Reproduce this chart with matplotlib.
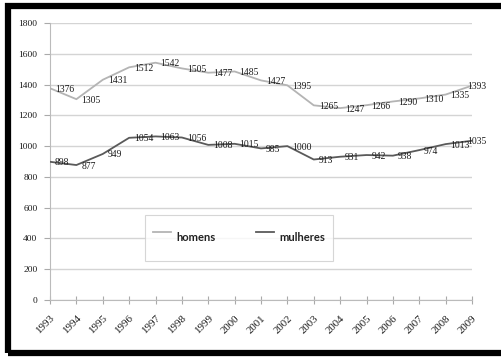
import matplotlib
matplotlib.use("Agg")
import matplotlib.pyplot as plt
from matplotlib.patches import Rectangle

years = [str(y) for y in range(1993, 2010)]
homens = [1376, 1305, 1431, 1512, 1542, 1505, 1477, 1485, 1427, 1395,
          1265, 1247, 1266, 1290, 1310, 1335, 1393]
mulheres = [898, 877, 949, 1054, 1063, 1056, 1008, 1015, 985, 1000,
            913, 931, 942, 938, 974, 1013, 1035]
y_ticks = [0, 200, 400, 600, 800, 1000, 1200, 1400, 1600, 1800]

serif = "Liberation Serif"
c_h = "#b4b4b4"
c_m = "#5a5a5a"

W, H = 502, 358
fig = plt.figure(figsize=(W / 100, H / 100), dpi=100)
fig.patch.set_facecolor("white")

ax = fig.add_axes([50 / W, (H - 300) / H, (472 - 50) / W, (300 - 23) / H])
x = list(range(len(years)))

ax.plot(x, homens, color=c_h, lw=1.3, label="homens", zorder=3)
ax.plot(x, mulheres, color=c_m, lw=1.3, label="mulheres", zorder=3)

for series in (homens, mulheres):
    for i, v in enumerate(series):
        dx = 5 if i < len(years) - 1 else -5
        ax.annotate(str(v), (i, v), xytext=(dx, -1), textcoords="offset pixels",
                    ha="left", va="center", fontsize=6.9, family=serif,
                    color="#1a1a1a", zorder=4)

ax.set_xlim(0, len(years) - 1)
ax.set_ylim(0, 1800)
ax.set_yticks(y_ticks)
ax.set_yticklabels([str(t) for t in y_ticks], family=serif, fontsize=6.8,
                   color="#1a1a1a")
ax.set_xticks(x)
ax.set_xticklabels(years, family=serif, fontsize=7.8, rotation=45,
                   ha="right", rotation_mode="anchor", color="#1a1a1a")
ax.tick_params(axis="x", direction="inout", length=6, color="#aaaaaa",
               width=0.8, pad=7)
ax.tick_params(axis="y", direction="out", length=4, color="#aaaaaa",
               width=0.8, pad=5)

ax.grid(axis="y", color="#d4d4d4", lw=1.0)
ax.set_axisbelow(True)
for s in ["top", "right"]:
    ax.spines[s].set_visible(False)
for s in ["left", "bottom"]:
    ax.spines[s].set_color("#bbbbbb")
    ax.spines[s].set_linewidth(0.8)

leg = ax.legend(loc="center left", bbox_to_anchor=((145 - 50) / 422, (300 - 238) / 277),
                borderaxespad=0, ncol=2, frameon=True, fancybox=False,
                edgecolor="#cccccc",
                prop={"family": "Lato", "size": 8, "weight": "bold"},
                handlelength=1.6, handleheight=3.8, handletextpad=0.5,
                columnspacing=3.6, borderpad=0.75)
leg.get_frame().set_linewidth(0.8)
for t in leg.get_texts():
    t.set_color("#222222")

# thick black frame around figure (right side cut off)
frame = Rectangle((8 / W, 5 / H), 1.2, 1 - 11 / H, transform=fig.transFigure,
                  fill=False, edgecolor="black", lw=4.5, zorder=10)
fig.patches.append(frame)

fig.savefig("out.png", dpi=100)
